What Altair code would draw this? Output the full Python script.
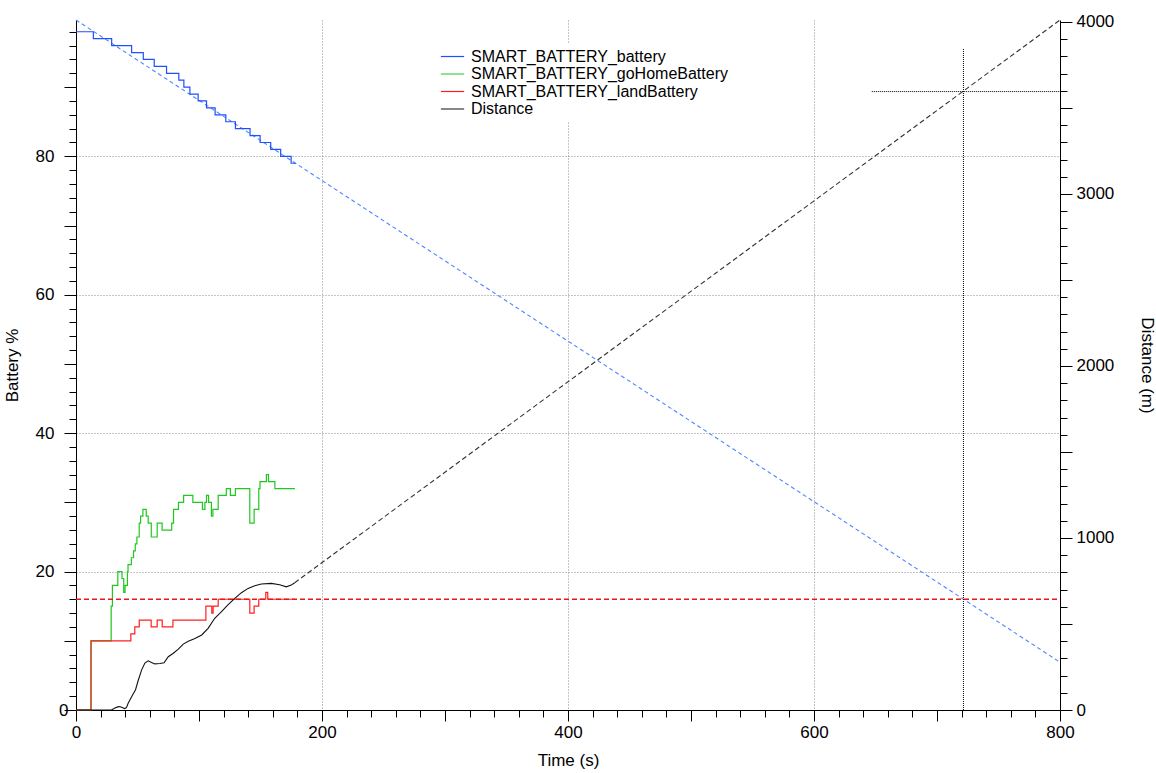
import altair as alt
import pandas as pd

# ---------------- data ----------------
SERIES = ["SMART_BATTERY_battery", "SMART_BATTERY_goHomeBattery",
          "SMART_BATTERY_landBattery", "Distance"]
COLORS = ["#1f4fff", "#1fc81f", "#ff1f1f", "#111111"]

bat_t = [0, 14.1, 29.0, 45.2, 54.7, 63.6, 73.6, 83.6, 87.7, 92.6, 99.3, 106.1,
         113.1, 121.8, 129.6, 141.5, 149.7, 158.3, 166.4, 174.9, 178.5]
bat_v = [98, 97, 96, 95, 94, 93, 92, 91, 90, 89, 88, 87,
         86, 85, 84, 83, 82, 81, 80, 79, 79]

gh_t = [0, 12.2, 28.6, 29.6, 34.0, 37.4, 38.8, 39.9, 41.8, 42.3, 45.0, 46.8,
        48.2, 49.5, 51.4, 52.5, 54.4, 57.1, 58.7, 61.2, 66.0, 70.0, 77.8, 79.3,
        83.3, 87.5, 95.0, 102.8, 104.8, 106.1, 107.8, 110.1, 111.3, 115.6, 122.2,
        125.5, 129.6, 141.3, 144.8, 148.6, 149.6, 154.8, 156.5, 161.7, 178.0]
gh_v = [0, 10, 15, 18, 20, 19, 17, 18, 20, 21, 22, 23,
        24, 25, 27, 28, 29, 28, 27, 25, 27, 26, 27, 29,
        30, 31, 30, 29, 30, 31, 30, 28, 29, 31, 32,
        31, 32, 27, 29, 32, 33, 34, 33, 32, 32]

land_t = [0, 12.2, 44.6, 47.8, 51.4, 61.1, 66.0, 70.1, 78.8, 105.6, 110.4,
          111.5, 115.6, 141.3, 144.8, 148.6, 154.3, 155.9, 178.0]
land_v = [0, 10, 11, 12, 13, 12, 13, 12, 13, 15, 14,
          15, 16, 14, 15, 16, 17, 16, 16]

dist_t = [0, 28.8, 31.7, 34.0, 35.6, 37.5, 39.5, 41.0, 42.4, 45.1, 48.4, 50.5,
          53.3, 56.0, 58.7, 61.4, 64.1, 68.2, 71.6, 75.0, 79.1, 83.2, 87.2, 91.3,
          96.7, 102.2, 107.4, 112.8, 118.3, 123.7, 129.1, 134.5, 139.9, 145.3,
          150.7, 158.8, 165.6, 171.0, 175.0, 177.8]
dist_v = [0, 0, 12, 18, 20, 14, 8, 14, 39, 76, 118, 170,
          232, 273, 286, 276, 268, 270, 275, 310, 330, 354, 383, 400,
          416, 436, 475, 533, 572, 612, 649, 682, 707, 722,
          732, 736, 728, 716, 726, 740]

bat_fit_t = [0, 800]
bat_fit_v = [99.7, 6.9]
dist_fit_t = [177.8, 800]
dist_fit_v = [740, 4011]
land_level = [16]
land_span = [0, 800]
cross_t = [721.5]
cross_d_span = [0, 3845]
cross_d = [3595]
cross_t_span = [647, 800]

BAT_DOMAIN = [0, 99.7]
DIST_DOMAIN = [0, 4011]
T_DOMAIN = [0, 800]
FONT = "Liberation Sans, Arial, Helvetica, sans-serif"

# ---------------- scales / axes ----------------
x_axis = alt.Axis(
    values=list(range(0, 801, 20)),
    labelExpr="datum.value % 200 === 0 ? datum.label : ''",
    tickSize={"condition": {"test": "datum.value % 100 === 0", "value": 11}, "value": 7},
    grid=True,
    gridOpacity={"condition": {"test": "datum.value % 200 === 0 && datum.value > 0 && datum.value < 800", "value": 1}, "value": 0},
    labelFlush=False, labelPadding=3, titleY=50, titleBaseline="middle",
)
left_axis = alt.Axis(
    values=list(range(0, 99, 2)),
    labelExpr="datum.value % 20 === 0 ? datum.label : ''",
    tickSize={"condition": {"test": "datum.value % 10 === 0", "value": 12}, "value": 7},
    labelPadding={"condition": {"test": "datum.value === 0", "value": -4}, "value": 10},
    grid=True,
    gridOpacity={"condition": {"test": "datum.value % 20 === 0 && datum.value > 0", "value": 1}, "value": 0},
    labelFlush=False, titleX=-64, titleBaseline="middle",
)
right_axis = alt.Axis(
    orient="right", format="d",
    values=list(range(0, 4001, 100)),
    labelExpr="datum.value % 1000 === 0 ? datum.label : ''",
    tickSize={"condition": {"test": "datum.value % 500 === 0", "value": 12}, "value": 7},
    grid=False, labelFlush=False, labelPadding=4,
    titleX=86, titleAngle=90, titleBaseline="middle",
)

def X(f):
    return alt.X(f, type="quantitative", scale=alt.Scale(domain=T_DOMAIN, nice=False), axis=x_axis, title="Time (s)")

def YL(f):
    return alt.Y(f, type="quantitative", scale=alt.Scale(domain=BAT_DOMAIN, nice=False), axis=left_axis, title="Battery %")

def YR(f):
    return alt.Y(f, type="quantitative", scale=alt.Scale(domain=DIST_DOMAIN, nice=False), axis=right_axis, title="Distance (m)")

legend = alt.Legend(
    title=None, orient="none", legendX=360, legendY=24,
    symbolType="stroke", symbolSize=540, symbolStrokeWidth=1.2,
    labelFontSize=16, labelFont=FONT, labelOffset=6, rowPadding=0.5, clipHeight=17,
    fillColor="white", padding=4, labelLimit=400,
)
color = alt.Color("series:N", scale=alt.Scale(domain=SERIES, range=COLORS), legend=legend)

# ---------------- frames ----------------
def series_df(ts, vs, name):
    return pd.DataFrame({"t": ts, "v": vs, "series": name})

df_bat = series_df(bat_t, bat_v, SERIES[0])
df_gh = series_df(gh_t, gh_v, SERIES[1])
df_land = series_df(land_t, land_v, SERIES[2])
df_dist = series_df(dist_t, dist_v, SERIES[3])
df_bat_fit = pd.DataFrame({"t": bat_fit_t, "v": bat_fit_v})
df_dist_fit = pd.DataFrame({"t": dist_fit_t, "v": dist_fit_v})
df_land_lvl = pd.DataFrame({"t0": [land_span[0]], "t1": [land_span[1]], "v": land_level})
df_cross_v = pd.DataFrame({"t": cross_t, "d0": [cross_d_span[0]], "d1": [cross_d_span[1]]})
df_cross_h = pd.DataFrame({"t0": [cross_t_span[0]], "t1": [cross_t_span[1]], "d": cross_d})

# ---------------- left (battery) group ----------------
bat_fit = alt.Chart(df_bat_fit).mark_line(color="#4d86ff", strokeWidth=1.1, strokeDash=[4, 3]).encode(
    x=X("t"), y=YL("v"))
step_kw = dict(interpolate="step-after", strokeWidth=1.2)
bat_line = alt.Chart(df_bat).mark_line(**step_kw).encode(x=X("t"), y=YL("v"), color=color)
gh_line = alt.Chart(df_gh).mark_line(**step_kw).encode(x=X("t"), y=YL("v"), color=color)
land_line = alt.Chart(df_land).mark_line(**step_kw).encode(x=X("t"), y=YL("v"), color=color)
land_dash = alt.Chart(df_land_lvl).mark_rule(color="#e81818", strokeWidth=1.3, strokeDash=[5, 3]).encode(
    x=X("t0"), x2="t1", y=YL("v"))
left = alt.layer(bat_fit, bat_line, gh_line, land_line, land_dash)

# ---------------- right (distance) group ----------------
dist_line = alt.Chart(df_dist).mark_line(strokeWidth=1.1).encode(x=X("t"), y=YR("v"), color=color)
dist_fit = alt.Chart(df_dist_fit).mark_line(color="#333333", strokeWidth=1.1, strokeDash=[5, 3]).encode(
    x=X("t"), y=YR("v"))
cross_v = alt.Chart(df_cross_v).mark_rule(color="black", strokeWidth=1, strokeDash=[1, 1]).encode(
    x=X("t"), y=YR("d0"), y2="d1")
cross_h = alt.Chart(df_cross_h).mark_rule(color="black", strokeWidth=1, strokeDash=[1, 1]).encode(
    x=X("t0"), x2="t1", y=YR("d"))
right = alt.layer(dist_line, dist_fit, cross_v, cross_h)

chart = alt.layer(left, right).resolve_scale(y="independent").properties(
    width=984, height=690,
    padding={"left": 76, "top": 20, "right": 96, "bottom": 63},
    autosize=alt.AutoSizeParams(type="none"),
    background="white",
).configure_view(stroke=None).configure_axis(
    domainColor="black", domainWidth=1, tickColor="black", tickWidth=1,
    labelColor="black", titleColor="black", labelFont=FONT, titleFont=FONT,
    labelFontSize=17, titleFontSize=17, titleFontWeight="normal",
    gridColor="#8a8a8a", gridDash=[1, 2], gridWidth=1,
)

chart.save("out.html", embed_options={"renderer": "svg", "actions": False})
